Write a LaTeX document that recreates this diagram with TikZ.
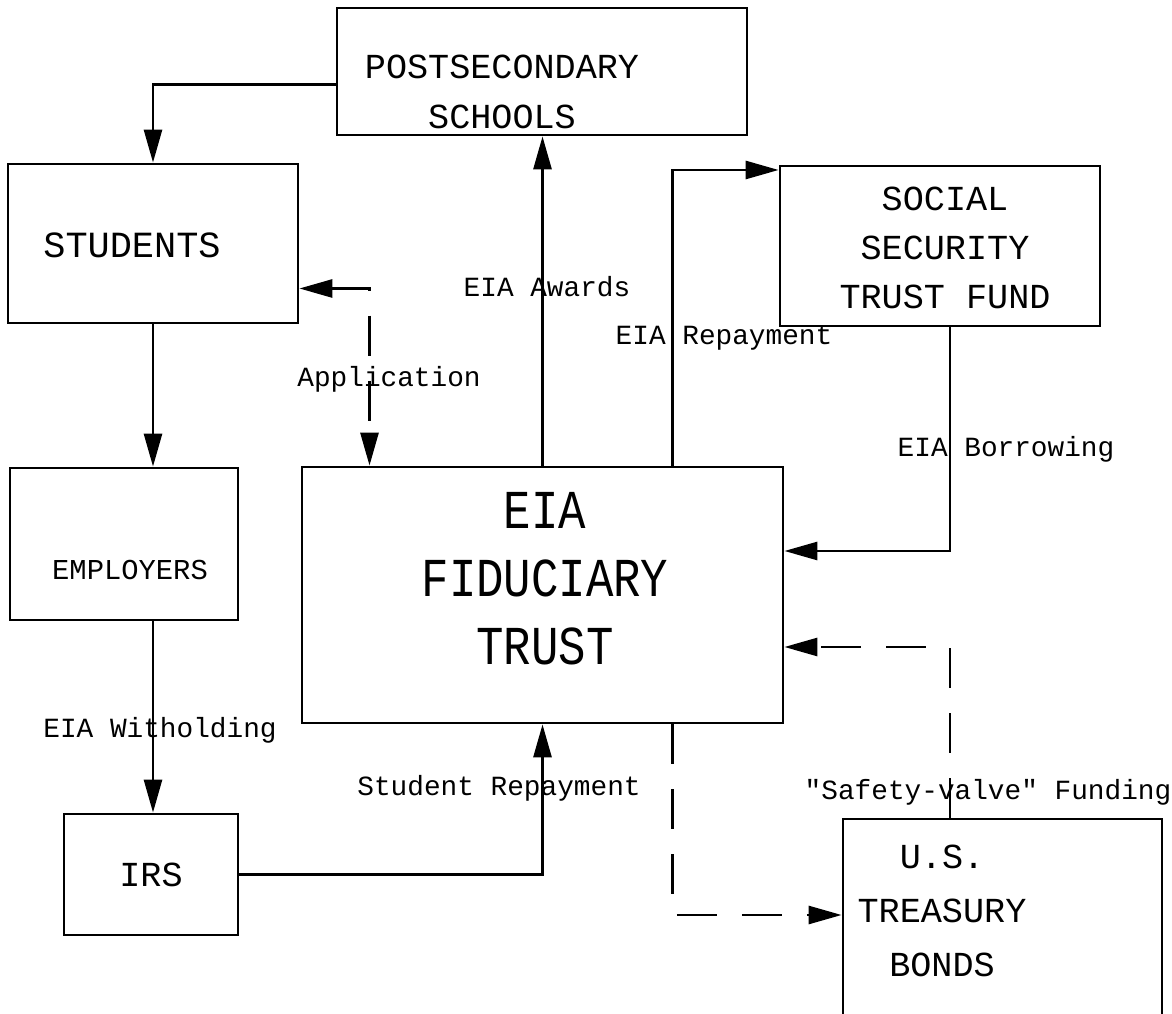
\documentclass[tikz,border=0pt]{standalone}
\usepackage{fontspec}
\setmonofont{Liberation Mono}
\usetikzlibrary{arrows.meta}
\begin{document}
\begin{tikzpicture}[line width=0.8pt]
        % Styles
        \tikzstyle{box}=[draw,inner sep=0pt]
        \tikzstyle{box text}=[font=\ttfamily,align=center,inner sep=0pt]
        \tikzstyle{flow}=[-{Triangle[length=3.3mm,width=1.8mm]}]
        \tikzstyle{dashed flow}=[flow,dash pattern=on 4mm off 2.5mm]
        \tikzstyle{flow label}=[font=\ttfamily\fontsize{7.9}{9}\selectfont,inner sep=0pt]
        \useasboundingbox (0,0) rectangle (11.72,-10.14);
        %boxes
        \node[box,minimum width=4.10cm,minimum height=1.27cm] (schools) at (5.42,-0.715) {};
        \node[box,minimum width=2.90cm,minimum height=1.59cm] (students) at (1.53,-2.435) {};
        \node[box,minimum width=3.20cm,minimum height=1.60cm] (ssa) at (9.40,-2.46) {};
        \node[box,minimum width=2.28cm,minimum height=1.52cm] (employers) at (1.24,-5.44) {};
        \node[box,minimum width=4.81cm,minimum height=2.56cm] (trust) at (5.425,-5.95) {};
        \node[box,minimum width=1.74cm,minimum height=1.21cm] (irs) at (1.51,-8.745) {};
        \node[box,minimum width=3.19cm,minimum height=2.21cm] (treasury) at (10.025,-9.295) {};
        %box texts
        \node[box text,font=\ttfamily\fontsize{10}{14.2}\selectfont] (schools text) at (5.02,-0.92) {POSTSECONDARY\\SCHOOLS};
        \node[box text,font=\ttfamily\fontsize{10.5}{12}\selectfont] (students text) at (1.32,-2.45) {STUDENTS};
        \node[box text,font=\ttfamily\fontsize{10}{14}\selectfont] (ssa text) at (9.45,-2.48) {SOCIAL\\SECURITY\\TRUST FUND};
        \node[box text,font=\ttfamily\fontsize{8.2}{10}\selectfont] (employers text) at (1.30,-5.70) {EMPLOYERS};
        \node[box text] (trust text) at (5.45,-5.83)
            {\scalebox{1}[1.2]{\fontsize{13}{16.1}\selectfont\begin{tabular}{@{}c@{}}EIA\\FIDUCIARY\\TRUST\end{tabular}}};
        \node[box text,font=\ttfamily\fontsize{10}{12}\selectfont] (irs text) at (1.51,-8.75) {IRS};
        \node[box text,font=\ttfamily\fontsize{10}{15.4}\selectfont] (treasury text) at (9.42,-9.11) {U.S.\\TREASURY\\BONDS};
        %flows
        \draw[flow] ([yshift=-0.13cm]schools.west) -| (students.north);
        \draw[flow] (students.south) -- (students.south |- employers.north);
        \draw[flow] (students.south |- employers.south) -- (students.south |- irs.north);
        \draw[flow] (irs.east) -| (trust.south);
        \draw[flow] (trust.north) -- (trust.north |- schools.south);
        \draw[dashed flow,{Triangle[length=3.3mm,width=1.8mm]}-{Triangle[length=3.3mm,width=1.8mm]}]
            ([yshift=-0.45cm]students.east) -| ([xshift=-1.73cm]trust.north);
        \draw[flow] ([xshift=1.3cm]trust.north) |- ([yshift=0.76cm]ssa.west);
        \draw[flow] ([xshift=0.1cm]ssa.south) |- ([yshift=0.44cm]trust.east);
        \draw[dashed flow] ([xshift=-0.525cm]treasury.north) |- ([yshift=-0.52cm]trust.east);
        \draw[dashed flow] ([xshift=1.3cm]trust.south) |- ([yshift=0.145cm]treasury.west);
        %labels
        \node[flow label] (awards) at (5.47,-2.87) {EIA Awards};
        \node[flow label] (application) at (3.89,-3.79) {Application};
        \node[flow label] (repayment) at (7.24,-3.38) {EIA Repayment};
        \node[flow label] (borrowing) at (10.06,-4.49) {EIA Borrowing};
        \node[flow label] (safety valve) at (9.88,-7.92) {"Safety-valve" Funding};
        \node[flow label] (witholding) at (1.60,-7.30) {EIA Witholding};
        \node[flow label] (student repayment) at (4.99,-7.88) {Student Repayment};
\end{tikzpicture}
\end{document}
